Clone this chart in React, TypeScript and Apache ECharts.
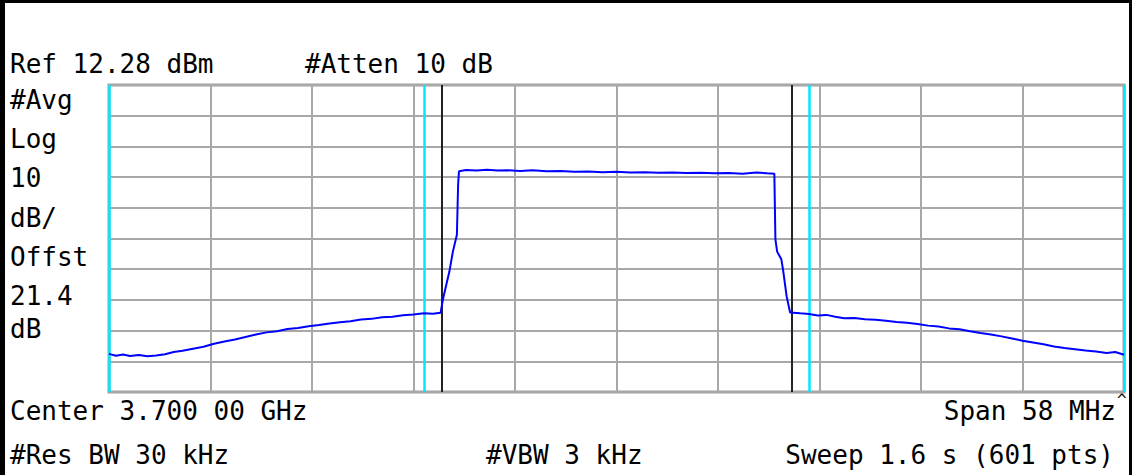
import React, { useEffect, useRef } from "react";
import * as echarts from "echarts";

// Spectrum analyzer settings
const REF_LEVEL_DBM = 12.28;
const DB_PER_DIV = 10;
const SPAN_MHZ = 58;

// Trace: frequency offset from centre (MHz) and level (dBm)
const FREQ_OFFSET_MHZ = [
  -29.0, -28.6, -28.2, -27.8, -27.3, -26.8, -26.3, -25.8, -25.3, -24.8,
  -24.2, -23.6, -23.0, -22.4, -21.8, -21.2, -20.6, -20.0, -19.4, -18.8,
  -18.2, -17.6, -17.0, -16.4, -15.8, -15.2, -14.6, -14.0, -13.4, -12.8,
  -12.2, -11.6, -11.0, -10.5, -10.05, -9.92, -9.72, -9.55, -9.35, -9.12,
  -9.05, -9.0, -8.6, -8.0, -7.4, -6.8, -6.2, -5.5, -4.8, -4.0,
  -3.2, -2.4, -1.6, -0.8, 0.0, 0.8, 1.6, 2.4, 3.2, 4.0,
  4.8, 5.6, 6.4, 7.2, 8.0, 8.6, 9.02, 9.08, 9.18, 9.42,
  9.52, 9.72, 9.92, 10.5, 11.0, 11.5, 12.0, 12.5, 13.0, 13.6,
  14.2, 14.8, 15.4, 16.0, 16.6, 17.2, 17.8, 18.4, 19.0, 19.6,
  20.2, 20.8, 21.4, 22.0, 22.6, 23.2, 23.8, 24.4, 25.0, 25.6,
  26.2, 26.8, 27.4, 28.0, 28.5, 29.0,
];
const LEVEL_DBM = [
  -75.3, -75.9, -75.5, -76.0, -75.7, -76.1, -75.8, -75.4, -74.7, -74.3,
  -73.6, -73.0, -72.0, -71.3, -70.6, -69.8, -69.0, -68.3, -67.9, -67.2,
  -66.9, -66.3, -65.9, -65.4, -65.0, -64.7, -64.1, -63.9, -63.4, -63.2,
  -62.7, -62.5, -62.1, -62.2, -61.9, -57.6, -52.6, -48.5, -42.0, -36.5,
  -20.0, -15.8, -15.4, -15.6, -15.3, -15.6, -15.5, -15.7, -15.5, -15.8,
  -15.7, -16.0, -15.9, -16.1, -16.0, -16.2, -16.1, -16.3, -16.2, -16.4,
  -16.3, -16.5, -16.4, -16.6, -16.2, -16.5, -16.6, -38.0, -42.0, -44.5,
  -48.0, -56.5, -61.8, -62.1, -62.3, -62.8, -62.6, -63.2, -63.7, -63.6,
  -64.0, -64.2, -64.5, -64.9, -65.2, -65.6, -66.1, -66.4, -67.0, -67.3,
  -67.9, -68.5, -69.0, -69.6, -70.3, -71.0, -71.6, -72.2, -72.9, -73.4,
  -73.8, -74.2, -74.5, -75.0, -74.7, -75.6,
];

// Markers (MHz offset)
const CYAN_MARKERS_MHZ = [-29, -11, 11, 29];
const BLACK_MARKERS_MHZ = [-10, 10];

// Annotation texts
const TOP_TEXTS = ["Ref 12.28 dBm", "#Atten 10 dB"];
const LEFT_TEXTS = ["#Avg", "Log", "10", "dB/", "Offst", "21.4", "dB"];
const BOTTOM_TEXTS = ["Center 3.700 00 GHz", "Span 58 MHz", "#Res BW 30 kHz", "#VBW 3 kHz", "Sweep 1.6 s (601 pts)"];

const FONT = "26px 'DejaVu Sans Mono', monospace";

export default function App() {
  const ref = useRef<HTMLDivElement>(null);

  useEffect(() => {
    if (!ref.current) return;
    const chart = echarts.init(ref.current, null, { renderer: "svg" });
    const half = SPAN_MHZ / 2;
    const data = FREQ_OFFSET_MHZ.map((f, i) => [f, LEVEL_DBM[i] - REF_LEVEL_DBM]);

    const leftY = [100, 139, 178, 218, 257, 296, 329];
    const txt = (text: string, x: number, y: number, align: string = "left") => ({
      type: "text",
      x,
      y,
      style: { text, font: FONT, fill: "#000", textAlign: align, textVerticalAlign: "middle" },
      z: 10,
    });

    chart.setOption({
      animation: false,
      backgroundColor: "#fff",
      grid: {
        left: 109,
        top: 85,
        width: 1015,
        height: 307,
        show: true,
        borderColor: "#a0a0a0",
        borderWidth: 3,
        backgroundColor: "#fff",
      },
      xAxis: {
        type: "value",
        min: -half,
        max: half,
        interval: SPAN_MHZ / 10,
        axisLabel: { show: false },
        axisTick: { show: false },
        axisLine: { show: false },
        splitLine: { show: true, lineStyle: { color: "#a8a8a8", width: 2 } },
      },
      yAxis: {
        type: "value",
        min: -10 * DB_PER_DIV,
        max: 0,
        interval: DB_PER_DIV,
        axisLabel: { show: false },
        axisTick: { show: false },
        axisLine: { show: false },
        splitLine: { show: true, lineStyle: { color: "#a8a8a8", width: 2 } },
      },
      series: [
        {
          type: "line",
          data: [],
          silent: true,
          markLine: {
            symbol: "none",
            silent: true,
            label: { show: false },
            animation: false,
            data: [
              ...CYAN_MARKERS_MHZ.map((x) => ({ xAxis: x, lineStyle: { color: "#00e8ff", width: 2.5, type: "solid" } })),
              ...BLACK_MARKERS_MHZ.map((x) => ({ xAxis: x, lineStyle: { color: "#222", width: 2, type: "solid" } })),
            ],
          },
        },
        {
          type: "line",
          data,
          showSymbol: false,
          symbol: "none",
          lineStyle: { color: "#0000ff", width: 2 },
          z: 5,
        },
      ],
      graphic: [
        { type: "rect", shape: { x: 0, y: 0, width: 5, height: 475 }, style: { fill: "#000" }, z: 20 },
        { type: "rect", shape: { x: 0, y: 0, width: 1132, height: 3 }, style: { fill: "#000" }, z: 20 },
        { type: "rect", shape: { x: 1129, y: 0, width: 3, height: 475 }, style: { fill: "#000" }, z: 20 },
        txt(TOP_TEXTS[0], 10, 64),
        txt(TOP_TEXTS[1], 305, 64),
        ...LEFT_TEXTS.map((t, i) => txt(t, 10, leftY[i])),
        txt(BOTTOM_TEXTS[0], 10, 411),
        txt(BOTTOM_TEXTS[1], 1116, 411, "right"),
        {
          type: "text",
          x: 1117,
          y: 399,
          style: { text: "^", font: "16px 'DejaVu Sans Mono', monospace", fill: "#000", textAlign: "left", textVerticalAlign: "middle" },
          z: 10,
        },
        txt(BOTTOM_TEXTS[2], 10, 455),
        txt(BOTTOM_TEXTS[3], 486, 455),
        txt(BOTTOM_TEXTS[4], 1114, 455, "right"),
      ],
    });
    return () => chart.dispose();
  }, []);

  return (
    <div
      ref={ref}
      style={{ position: "fixed", left: 0, top: 0, width: 1132, height: 475, background: "#fff" }}
    />
  );
}
